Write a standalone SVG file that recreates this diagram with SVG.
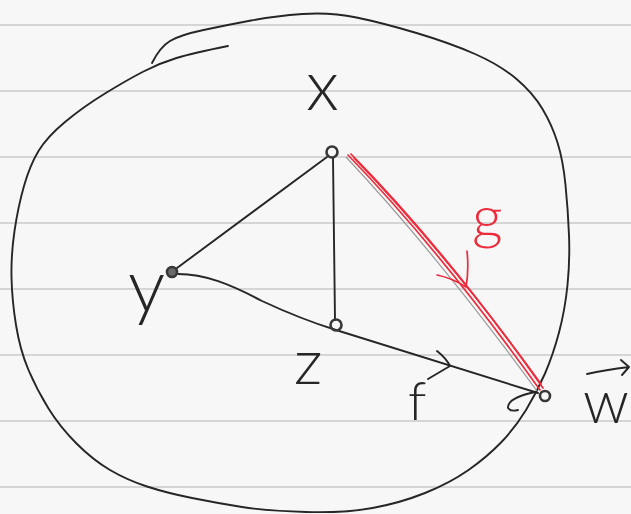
<svg xmlns="http://www.w3.org/2000/svg" width="631" height="514" viewBox="0 0 631 514">
<style>
.paper{fill:#f6f7f6}
.rule{stroke:#c9cbcb;stroke-width:1.6}
.ink{fill:none;stroke:#262626;stroke-width:1.9;stroke-linecap:round;stroke-linejoin:round}
.node{fill:none;stroke:#383838;stroke-width:2.6}
.red{fill:none;stroke:#ee2b3c;stroke-width:1.7;stroke-linecap:round}
.pencil{fill:none;stroke:#9a9a9a;stroke-width:1.2}
.lbl{font-family:Lato,Roboto,"Liberation Sans",sans-serif;font-weight:300;fill:#262626}
.rlbl{font-family:Lato,Roboto,"Liberation Sans",sans-serif;font-weight:300;fill:#ee2b3c}
</style>
<rect class="paper" x="0" y="0" width="631" height="514"/>
<g id="paper-rules">
<line class="rule" x1="0" y1="25" x2="631" y2="25"/>
<line class="rule" x1="0" y1="91" x2="631" y2="91"/>
<line class="rule" x1="0" y1="157" x2="631" y2="157"/>
<line class="rule" x1="0" y1="223" x2="631" y2="223"/>
<line class="rule" x1="0" y1="289" x2="631" y2="289"/>
<line class="rule" x1="0" y1="355" x2="631" y2="355"/>
<line class="rule" x1="0" y1="421" x2="631" y2="421"/>
<line class="rule" x1="0" y1="487" x2="631" y2="487"/>
</g>
<g id="boundary">
<path class="ink" d="M152,63 Q160,47 170,41 Q180,35 203.5,30 Q227,25 251,20.5 Q275,16 302.5,14 Q330,12 356.5,17.5 Q383,23 416.5,33 Q450,43 475,54 Q500,65 516.5,79 Q533,93 542.5,109 Q552,125 557.5,142.5 Q563,160 565.5,185 Q568,210 569,235 Q570,260 567.5,285 Q565,310 559,332.5 Q553,355 545,373.5 Q537,392 526,410 Q515,428 501,442.5 Q487,457 468.5,470 Q450,483 425,493 Q400,503 372.5,508 Q345,513 306,512 Q267,511 242,507 Q217,503 192,498 Q167,493 147,486.5 Q127,480 110,470 Q93,460 76.5,443.5 Q60,427 48.5,408.5 Q37,390 28.5,370 Q20,350 16,325 Q12,300 11.5,277.5 Q11,255 14.5,231 Q18,207 24,186 Q30,165 38.5,151 Q47,137 65,122 Q83,107 105,93.5 Q127,80 143.5,71.5 Q160,63 176.5,58 Q193,53 228,46"/>
</g>
<g id="connectors">
<path id="edge-x-y" class="ink" d="M327,157 L177,268"/>
<path id="edge-x-z" class="ink" d="M333,158 L335,320"/>
<path id="edge-y-z-w" class="ink" d="M178,274 C205,274 230,284 262,301 C290,314 310,322 336,330 L538,393"/>
<path id="arrow-f" class="ink" d="M437,351 Q446,358 450,366 L428,379"/>
<path id="arrow-w-tail" class="ink" d="M535,392 Q507,398 508,408 Q511,412 518,410"/>
<g id="edge-g">
<path class="pencil" d="M346,157 Q436,253 537,391"/>
<path class="red" d="M348,155 Q440,250 540,390"/>
<path class="red" d="M351,154 Q444,248 543,388"/>
<path class="red" d="M354,158 Q447,254 541,384"/>
<path class="red" d="M467,251 Q469,270 466,287 M437,275 Q452,278 466,287"/>
</g>
</g>
<g id="node-x"><circle class="node" cx="332" cy="152" r="5.5"/></g>
<g id="node-y"><circle class="node" cx="172" cy="272" r="5" style="fill:#6a6a6a"/></g>
<g id="node-z"><circle class="node" cx="336" cy="325" r="5.5"/></g>
<g id="node-w"><circle class="node" cx="545" cy="396" r="5"/></g>
<g id="labels">
<text class="lbl" x="306" y="110" font-size="70">x</text>
<text class="lbl" x="128" y="312" font-size="74">y</text>
<text class="lbl" x="294" y="384" font-size="64">z</text>
<text class="lbl" x="408" y="420" font-size="54">f</text>
<text class="rlbl" x="472" y="238" font-size="60">g</text>
<text class="lbl" x="583" y="423" font-size="60">w</text>
<path class="ink" d="M587,374 Q605,370 629,367 M621,360 L629,367 L622,375"/>
</g>
</svg>
